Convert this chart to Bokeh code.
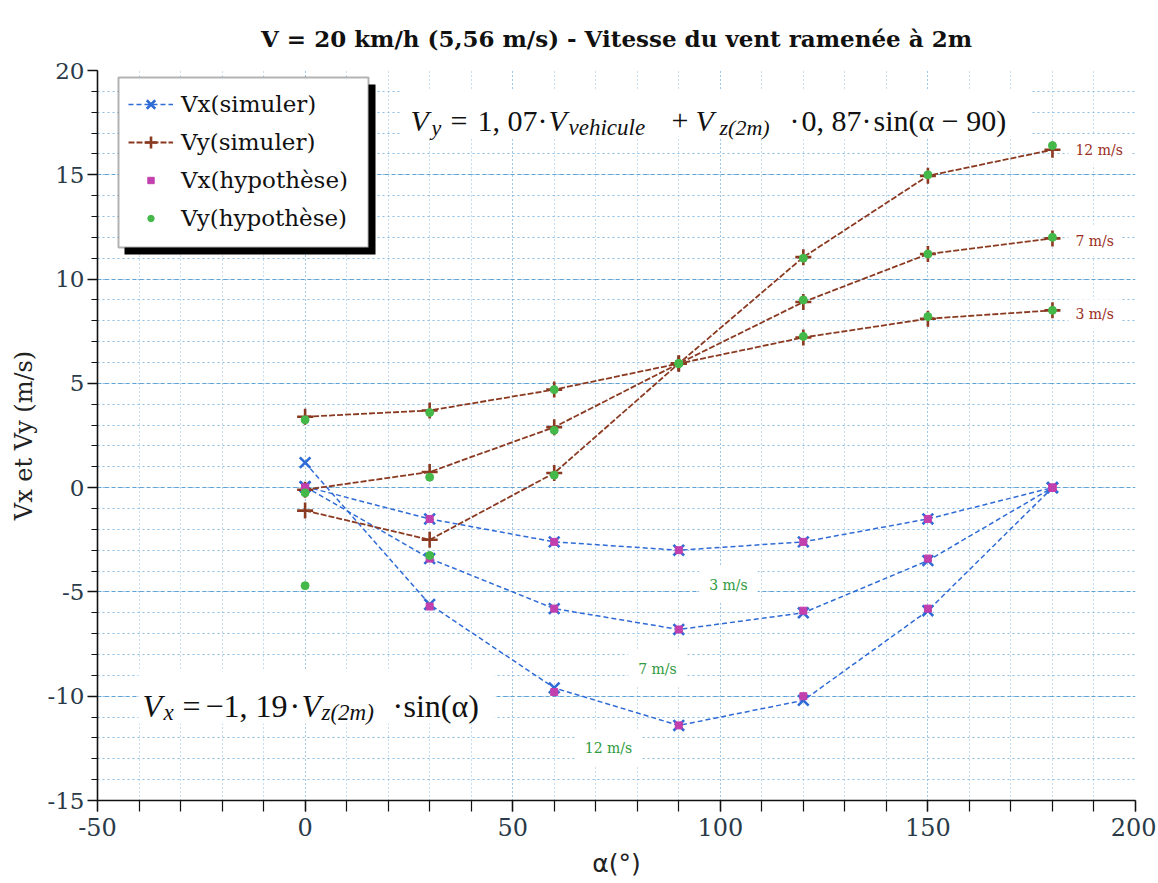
from bokeh.plotting import figure
from bokeh.models import (Legend, LegendItem, BoxAnnotation, Label, SingleIntervalTicker,
                          PrintfTickFormatter)
from bokeh.embed import file_html
from bokeh.resources import INLINE

# ---------------- data ----------------
alpha = [0, 30, 60, 90, 120, 150, 180]
wind_labels = ["3 m/s", "7 m/s", "12 m/s"]

vx_sim_3 = [0.05, -1.5, -2.6, -3.0, -2.6, -1.5, 0.0]
vx_sim_7 = [0.05, -3.4, -5.8, -6.8, -6.0, -3.5, 0.0]
vx_sim_12 = [1.2, -5.6, -9.6, -11.4, -10.2, -5.9, 0.0]

vy_sim_3 = [3.4, 3.7, 4.7, 5.95, 7.2, 8.1, 8.5]
vy_sim_7 = [-0.1, 0.75, 2.9, 5.95, 8.9, 11.2, 11.95]
vy_sim_12 = [-1.1, -2.5, 0.7, 5.95, 11.05, 14.95, 16.2]

vx_hyp_3 = [0.0, -1.5, -2.6, -3.0, -2.6, -1.5, 0.0]
vx_hyp_7 = [0.0, -3.4, -5.8, -6.8, -5.9, -3.4, 0.0]
vx_hyp_12 = [0.0, -5.7, -9.8, -11.4, -10.0, -5.8, 0.0]

vy_hyp_3 = [3.25, 3.6, 4.7, 5.95, 7.25, 8.2, 8.5]
vy_hyp_7 = [-0.25, 0.5, 2.75, 5.95, 9.0, 11.2, 12.0]
vy_hyp_12 = [-4.7, -3.25, 0.6, 5.95, 11.0, 15.0, 16.4]

vx_sim = [vx_sim_3, vx_sim_7, vx_sim_12]
vy_sim = [vy_sim_3, vy_sim_7, vy_sim_12]
vx_hyp = [vx_hyp_3, vx_hyp_7, vx_hyp_12]
vy_hyp = [vy_hyp_3, vy_hyp_7, vy_hyp_12]

# ---------------- styles ----------------
SERIF = "Liberation Serif"
DSERIF = "DejaVu Serif"
BLUE = "#2f6bd6"
BROWN = "#8b3a22"
MAGENTA = "#c23fae"
GREEN = "#45b84a"
RED_TXT = "#9a2e1c"
GREEN_TXT = "#2f9a40"

X0, X1, Y0, Y1 = -50, 200, -15, 20
FL, FT, FW, FH = 97, 70, 1038, 730  # frame position in reference image pixels
W, H = 1156, 881


def px2x(px):
    return X0 + (px - FL) / FW * (X1 - X0)


def py2y(py):
    return Y1 - (py - FT) / FH * (Y1 - Y0)


p = figure(width=W, height=H, x_range=(X0, X1), y_range=(Y0, Y1),
           output_backend="svg", toolbar_location=None,
           min_border_left=FL, min_border_right=W - FL - FW,
           min_border_top=FT, min_border_bottom=H - FT - FH,
           title="V = 20 km/h (5,56 m/s) - Vitesse du vent ramenée à 2m")
p.outline_line_color = None
p.title.text_font = DSERIF
p.title.text_font_size = "23px"
p.title.text_font_style = "bold"
p.title.text_color = "#111111"
p.title.align = "center"
p.title.standoff = 38

p.xaxis.ticker = SingleIntervalTicker(interval=50, num_minor_ticks=5)
p.yaxis.ticker = SingleIntervalTicker(interval=5, num_minor_ticks=5)
p.xaxis.formatter = PrintfTickFormatter(format="%d")
p.yaxis.formatter = PrintfTickFormatter(format="%d")

p.xgrid.grid_line_color = "#78afd9"
p.xgrid.grid_line_dash = "1 3"
p.xgrid.minor_grid_line_color = "#8cbde2"
p.xgrid.minor_grid_line_dash = "1 3"
p.ygrid.grid_line_color = "#5ea3d4"
p.ygrid.grid_line_dash = "4 3"
p.ygrid.minor_grid_line_color = "#8cbde2"
p.ygrid.minor_grid_line_dash = "2 3"

for ax in (p.xaxis[0], p.yaxis[0]):
    ax.axis_line_color = "#111111"
    ax.axis_line_width = 1.6
    ax.major_tick_line_color = "#111111"
    ax.minor_tick_line_color = "#111111"
    ax.major_tick_line_width = 1.4
    ax.minor_tick_line_width = 1.2
    ax.major_tick_in = 0
    ax.minor_tick_in = 0
    ax.major_label_text_font = DSERIF
    ax.major_label_text_color = "#2a3a48"
    ax.axis_label_text_color = "#222222"
    ax.axis_label_text_font_style = "normal"

p.xaxis.major_tick_out = 11
p.xaxis.minor_tick_out = 11
p.xaxis.major_label_text_font_size = "24px"
p.xaxis.major_label_standoff = 6
p.xaxis.axis_label = "α(°)"
p.xaxis.axis_label_text_font = "DejaVu Sans"
p.xaxis.axis_label_text_font_size = "25px"
p.xaxis.axis_label_standoff = 10

p.yaxis.major_tick_out = 10
p.yaxis.minor_tick_out = 6
p.yaxis.major_label_text_font_size = "23px"
p.yaxis.major_label_standoff = 3
p.yaxis.axis_label = "Vx et Vy (m/s)"
p.yaxis.axis_label_text_font = DSERIF
p.yaxis.axis_label_text_font_size = "24px"
p.yaxis.axis_label_standoff = 6

# ---------------- glyphs ----------------
vx_lines, vy_lines, vx_marks, vy_marks, vxh_marks, vyh_marks = [], [], [], [], [], []
for vals in vx_sim:
    vx_lines.append(p.line(alpha, vals, line_color=BLUE, line_width=1.5, line_dash="5 3"))
for vals in vy_sim:
    vy_lines.append(p.line(alpha, vals, line_color=BROWN, line_width=1.8, line_dash="6 2"))
for vals in vx_sim:
    vx_marks.append(p.scatter(alpha, vals, marker="x", size=15, line_color=BLUE, line_width=2.6))
for vals in vy_sim:
    vy_marks.append(p.scatter(alpha, vals, marker="cross", size=16, line_color=BROWN, line_width=2.6))
for vals in vx_hyp:
    vxh_marks.append(p.scatter(alpha, vals, marker="square", size=7, fill_color=MAGENTA, line_color=MAGENTA))
for vals in vy_hyp:
    vyh_marks.append(p.scatter(alpha, vals, marker="circle", size=8, fill_color=GREEN, line_color=GREEN))

# ---------------- legend box with shadow ----------------
p.add_layout(BoxAnnotation(left=px2x(124), right=px2x(375), top=py2y(84), bottom=py2y(254),
                           fill_color="black", fill_alpha=1, line_color=None))
p.add_layout(BoxAnnotation(left=px2x(118), right=px2x(368), top=py2y(77), bottom=py2y(247),
                           fill_color="white", fill_alpha=1, line_color="black", line_width=2))

# white boxes behind formulas
p.add_layout(BoxAnnotation(left=px2x(400), right=px2x(1030), top=py2y(90), bottom=py2y(138),
                           fill_color="white", fill_alpha=1, line_color=None))
p.add_layout(BoxAnnotation(left=px2x(138), right=px2x(494), top=py2y(670), bottom=py2y(723),
                           fill_color="white", fill_alpha=1, line_color=None))


def piece(text, px, py, size, style="normal"):
    p.add_layout(Label(x=px2x(px), y=py2y(py), text=text, text_font=SERIF,
                       text_font_size=f"{size}px", text_font_style=style,
                       text_color="#111111", text_baseline="alphabetic", text_align="left"))


# Vy formula
B, S = 120, 127
piece("V", 410, B, 30, "italic")
piece("y", 431, S, 22, "italic")
piece("=", 450, B, 30)
piece("1, 07", 477, B, 30)
piece("·", 537, B, 30)
piece("V", 548, B, 30, "italic")
piece("vehicule", 568, S, 23, "italic")
piece("+", 671, B, 30)
piece("V", 695, B, 30, "italic")
piece("z(2m)", 719, S, 22, "italic")
piece("·", 789, B, 30)
piece("0, 87", 801, B, 30)
piece("·", 861, B, 30)
piece("sin(α − 90)", 873, B, 30)

# Vx formula
B, S = 705, 712
piece("V", 142, B, 32, "italic")
piece("x", 163, S, 23, "italic")
piece("=", 182, B, 32)
piece("−1, 19", 205, B, 32)
piece("·", 289, B, 32)
piece("V", 301, B, 32, "italic")
piece("z(2m)", 321, S, 23, "italic")
piece("·", 392, B, 32)
piece("sin(α)", 403, B, 32)

# wind speed labels for Vy (right side)
for lab, vals in zip(wind_labels, vy_hyp):
    p.add_layout(Label(x=alpha[-1], y=vals[-1], x_offset=16, y_offset=-4, text=lab,
                       text_font=DSERIF, text_font_size="14px", text_color=RED_TXT,
                       text_baseline="middle", text_align="left",
                       background_fill_color="white", background_fill_alpha=1, padding=7))

# wind speed labels for Vx (below curves)
for lab, px, py in zip(wind_labels, [728, 657, 608], [584, 668, 747]):
    p.add_layout(Label(x=px2x(px), y=py2y(py), text=lab,
                       text_font=DSERIF, text_font_size="14px", text_color=GREEN_TXT,
                       text_baseline="middle", text_align="center",
                       background_fill_color="white", background_fill_alpha=1, padding=10))

common = dict(padding=8, margin=0, spacing=0, glyph_width=45, label_height=38,
              label_standoff=8, label_text_font=DSERIF, label_text_font_size="23px",
              label_text_color="#111111", border_line_alpha=0, background_fill_alpha=0)
legend_sim = Legend(items=[
    LegendItem(label="Vx(simuler)", renderers=[vx_lines[0], vx_marks[0]]),
    LegendItem(label="Vy(simuler)", renderers=[vy_lines[0], vy_marks[0]]),
], location=(23, 800 - 169), glyph_height=30, **common)
legend_hyp = Legend(items=[
    LegendItem(label="Vx(hypothèse)", renderers=[vxh_marks[0]]),
    LegendItem(label="Vy(hypothèse)", renderers=[vyh_marks[0]]),
], location=(23, 800 - 245), glyph_height=16, **common)
p.add_layout(legend_sim)
p.add_layout(legend_hyp)

open("out.html", "w").write(file_html(p, INLINE))
